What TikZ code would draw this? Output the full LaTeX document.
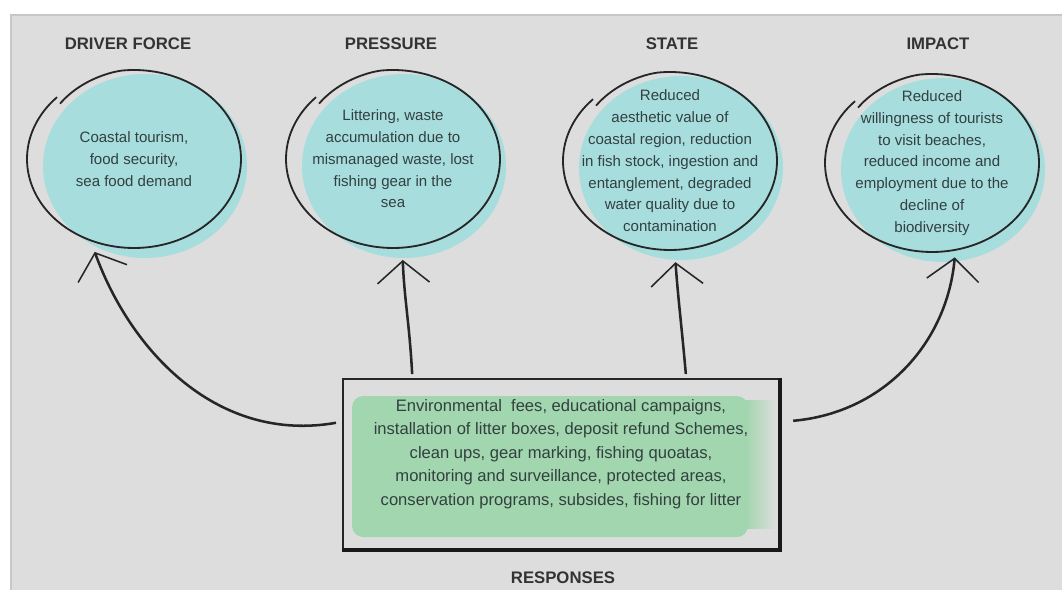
\documentclass[tikz,border=0pt]{standalone}
\usepackage{fontspec}
\setmainfont{Liberation Sans}
\usetikzlibrary{positioning,shapes.geometric,arrows.meta}

\definecolor{panelgrey}{RGB}{221,221,221}
\definecolor{seafill}{RGB}{168,221,222}
\definecolor{respfill}{RGB}{162,214,174}
\definecolor{inkgrey}{RGB}{50,64,64}

\tikzset{
  heading/.style={font=\fontsize{11.9}{14}\selectfont\bfseries, text=black!80, inner sep=0pt},
  dpsir/.style={ellipse, minimum width=5.35cm, minimum height=4.45cm, inner xsep=-0.5cm, inner ysep=-0.7cm,
                align=center, text=inkgrey, font=\fontsize{10.7}{15.5}\selectfont},
  respbox/.style={draw=black!85, line width=1.3pt, minimum width=10.9cm, minimum height=4.25cm,
                  align=center, text=inkgrey, font=\fontsize{11.8}{16.7}\selectfont},
  sketch/.style={line width=1.3pt, black!85},
  flow/.style={line width=1.8pt, black!85, shorten >=0.3cm,
               -{Straight Barb[length=0.55cm, width=1.3cm, line width=1.1pt]}},
}

\begin{document}
\begin{tikzpicture}[x=0.025cm, y=-0.025cm]
    \useasboundingbox (0,0) rectangle (1062,590);
    \fill[white] (0,0) rectangle (1062,590);
    \fill[black!22] (10,14) rectangle (1062,590);
    \fill[panelgrey] (12,16) rectangle (1062,590);

    % blue washes behind the circles
    \foreach \px/\py in {134/159, 393/159, 670/161, 932/163}
        \fill[seafill] (\px+11,\py+7) ellipse [x radius=2.55cm, y radius=2.3cm];

    \node[dpsir] (drv) at (134,159) {Coastal tourism,\\ food security,\\ sea food demand};
    \node[dpsir] (prs) at (393,159) {Littering, waste\\ accumulation due to\\ mismanaged waste, lost\\ fishing gear in the\\ sea};
    \node[dpsir] (sta) at (670,161) {Reduced\\ aesthetic value of\\ coastal region, reduction\\ in fish stock, ingestion and\\ entanglement, degraded\\ water quality due to\\ contamination};
    \node[dpsir] (imp) at (932,163) {Reduced\\ willingness of tourists\\ to visit beaches,\\ reduced income and\\ employment due to the\\ decline of\\ biodiversity};

    % hand drawn outlines
    \foreach \n in {drv,prs,sta,imp}
        \draw[sketch, shift={(\n.center)}] plot[smooth, domain=0:362, samples=80]
            ({107*(1-0.07*max(0,1-\x/40))*cos(138-\x)}, {-89*(1-0.07*max(0,1-\x/40))*sin(138-\x)});

    \node[heading] (hdrv) at (128,44) {DRIVER FORCE};
    \node[heading] (hprs) at (391,44) {PRESSURE};
    \node[heading] (hsta) at (672,44) {STATE};
    \node[heading] (himp) at (938,44) {IMPACT};

    % green brush behind the responses
    \fill[respfill, rounded corners=8pt] (352,396) rectangle (748,537);
    \shade[left color=respfill, right color=panelgrey] (746,400) rectangle (776,528);

    \node[respbox] (resp) at (561,464) {Environmental\ \ fees, educational campaigns,\\ installation of litter boxes, deposit refund Schemes,\\ clean ups, gear marking, fishing quoatas,\\ monitoring and surveillance, protected areas,\\ conservation programs, subsides, fishing for litter\\[0pt]\mbox{}};
    \draw[line width=2.6pt, black!90] (resp.south west) -- (resp.south east) -- (resp.north east);
    \node[heading] (hresp) at (563,578) {RESPONSES};

    \draw[flow] ([shift={(-0.15cm,1.03cm)}]resp.west) to[out=190, in=-70] (drv.242);
    \draw[flow] ([shift={(-3.72cm,0.1cm)}]resp.north) to[out=93, in=-88] (prs.-84);
    \draw[flow] ([shift={(3.12cm,0.1cm)}]resp.north) to[out=95, in=-86] (sta.-87);
    \draw[flow, shorten >=0.18cm] ([shift={(0.33cm,1.08cm)}]resp.east) to[out=5, in=-95] (imp.-75);
\end{tikzpicture}
\end{document}
